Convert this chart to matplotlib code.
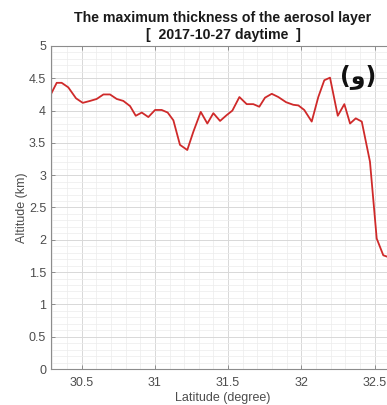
import matplotlib
matplotlib.use("Agg")
import matplotlib.pyplot as plt
from matplotlib.ticker import MultipleLocator

plt.rcParams['font.family'] = ['Liberation Sans', 'DejaVu Sans']

latitude = [30.284, 30.329, 30.363, 30.408, 30.461, 30.507, 30.557, 30.602,
            30.648, 30.693, 30.739, 30.784, 30.830, 30.869, 30.910, 30.955,
            31.001, 31.046, 31.087, 31.126, 31.171, 31.221, 31.262, 31.313,
            31.358, 31.399, 31.445, 31.490, 31.529, 31.577, 31.627, 31.672,
            31.713, 31.752, 31.798, 31.843, 31.896, 31.945, 31.980, 32.020,
            32.071, 32.116, 32.157, 32.196, 32.249, 32.294, 32.333, 32.372,
            32.413, 32.469, 32.515, 32.560, 32.585]
altitude = [4.23, 4.43, 4.43, 4.36, 4.19, 4.12, 4.15, 4.18,
            4.25, 4.25, 4.18, 4.15, 4.07, 3.92, 3.97, 3.90,
            4.01, 4.01, 3.97, 3.85, 3.47, 3.39, 3.67, 3.98,
            3.80, 3.96, 3.84, 3.93, 4.00, 4.21, 4.10, 4.10,
            4.06, 4.20, 4.26, 4.21, 4.13, 4.09, 4.08, 4.01,
            3.83, 4.21, 4.47, 4.51, 3.92, 4.10, 3.80, 3.88,
            3.83, 3.21, 2.02, 1.76, 1.74]

x_ticks = [30.5, 31, 31.5, 32, 32.5]
y_ticks = [0, 0.5, 1, 1.5, 2, 2.5, 3, 3.5, 4, 4.5, 5]

W, H = 387, 405
fig = plt.figure(figsize=(W / 100, H / 100), dpi=100)
# the plot box runs a little past the right edge of the image
ax = fig.add_axes([51 / W, 36 / H, 344 / W, 323 / H])

ax.plot(latitude, altitude, color='#cf2a2a', linewidth=1.3)

ax.set_xlim(30.29, 32.64)
ax.set_ylim(0, 5)
ax.set_xticks(x_ticks)
ax.set_xticklabels(['30.5', '31', '31.5', '32', '32.5'])
ax.set_yticks(y_ticks)
ax.set_yticklabels(['0', '0.5', '1', '1.5', '2', '2.5', '3', '3.5', '4', '4.5', '5'])
ax.xaxis.set_minor_locator(MultipleLocator(0.1))
ax.yaxis.set_minor_locator(MultipleLocator(0.1))

ax.grid(True, which='major', color='#d8d8d8', linewidth=0.7)
ax.grid(True, which='minor', color='#ececec', linewidth=0.5)
ax.set_axisbelow(True)

for side in ['left', 'bottom', 'top', 'right']:
    ax.spines[side].set_color('#8c8c8c')
    ax.spines[side].set_linewidth(0.8)

ax.tick_params(which='major', direction='in', length=3, width=0.7,
               color='#8c8c8c', labelcolor='#4d4d4d', labelsize=9,
               top=True, right=True)
ax.tick_params(which='minor', length=0)
ax.tick_params(axis='x', pad=6)

ax.set_xlabel('Latitude (degree)', fontsize=9, color='#4d4d4d', labelpad=2)
ax.set_ylabel('Altitude (km)', fontsize=9, color='#4d4d4d', labelpad=1)

ax.set_title('The maximum thickness of the aerosol layer\n[  2017-10-27 daytime  ]',
             fontsize=10.2, fontweight='bold', color='#1a1a1a', pad=5,
             linespacing=1.3)

ax.text(0.945, 0.945, '(و)', transform=ax.transAxes, ha='right', va='top',
        fontsize=17, fontweight='bold', color='#111111',
        family=['DejaVu Sans'])

fig.savefig('out.png', dpi=100)
